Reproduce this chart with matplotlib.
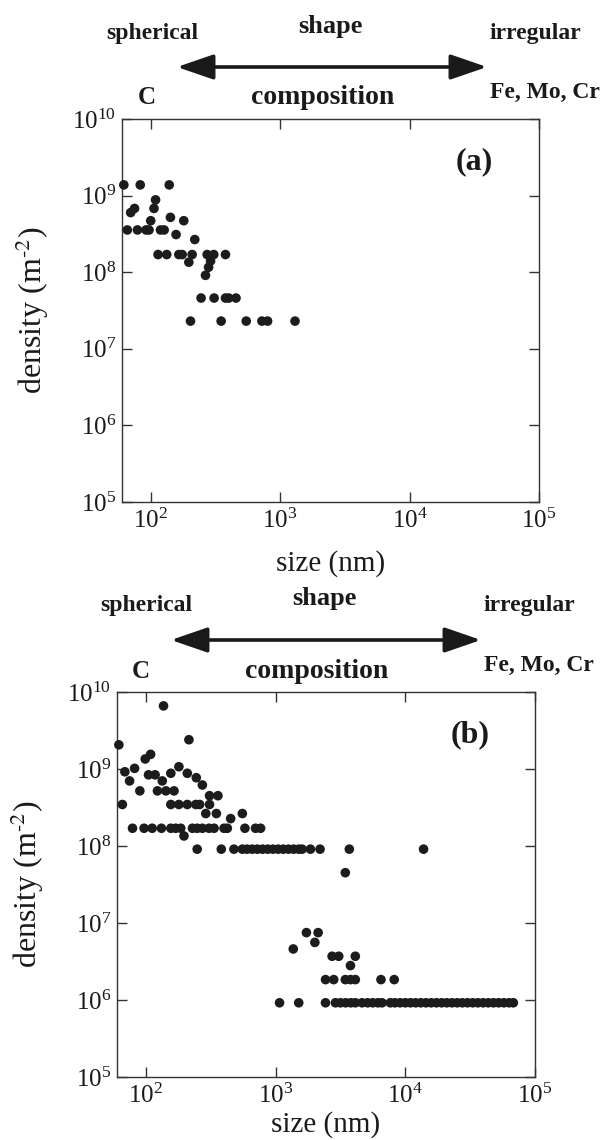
import matplotlib
matplotlib.use("Agg")
import matplotlib.pyplot as plt
from matplotlib.ticker import LogLocator, LogFormatterMathtext

# ---- dados (tamanho em nm, densidade em m^-2) ----
size_a = [62, 83, 139,
          109, 106, 75, 70,
          142, 100, 180,
          66, 79, 92, 97, 119, 127,
          157, 219,
          114, 133, 165, 175, 209, 273, 307, 378,
          197, 290, 280, 265,
          245, 309, 378, 401, 456,
          203, 350, 547, 723, 800, 1303]
dens_a = [1.38e9, 1.38e9, 1.38e9,
          8.8e8, 6.8e8, 6.8e8, 6.0e8,
          5.2e8, 4.7e8, 4.7e8,
          3.56e8, 3.56e8, 3.56e8, 3.56e8, 3.56e8, 3.56e8,
          3.1e8, 2.67e8,
          1.7e8, 1.7e8, 1.7e8, 1.7e8, 1.7e8, 1.7e8, 1.7e8, 1.7e8,
          1.35e8, 1.4e8, 1.16e8, 9.1e7,
          4.6e7, 4.6e7, 4.6e7, 4.6e7, 4.6e7,
          2.3e7, 2.3e7, 2.3e7, 2.3e7, 2.3e7, 2.3e7]

size_b = [62, 66, 69, 75, 82, 90, 99, 109, 105, 118, 123, 143, 165, 134,
          156, 180, 209, 245, 273, 137, 215,
          156, 180, 209, 243, 260, 310,
          310, 360, 290, 350,
          79, 97, 112, 132, 156, 170, 186, 229, 249, 273, 307, 336, 401, 425,
          581, 701, 767,
          197, 451, 555,
          249, 382, 478, 555, 603, 661, 724, 794, 871, 955, 1047, 1148, 1259,
          1380, 1514, 1603, 1858, 2203, 3707, 13836,
          3451,
          1370, 1730, 2130, 2010, 2730, 3070, 4120, 3780,
          2430, 2810, 3450, 3780, 4120, 6500, 8220,
          1074, 1510, 2427, 2897, 3162, 3467, 3802, 4121, 4645, 5129, 5623,
          6166, 6622, 7674, 8318, 9120, 10000, 10960, 12020, 13180, 14450,
          15850, 17380, 19050, 20890, 22910, 25120, 27540, 30200, 33110,
          36310, 39810, 43650, 47860, 52480, 57540, 63100, 68080]
dens_b = [2.06e9, 3.46e8, 9.2e8, 7.0e8, 1.02e9, 5.2e8, 1.35e9, 1.55e9, 8.4e8,
          8.4e8, 5.2e8, 5.2e8, 5.2e8, 7.0e8,
          8.8e8, 1.07e9, 8.8e8, 7.7e8, 6.2e8, 6.6e9, 2.4e9,
          3.46e8, 3.46e8, 3.46e8, 3.46e8, 3.46e8, 3.46e8,
          4.5e8, 4.5e8, 2.64e8, 2.64e8,
          1.7e8, 1.7e8, 1.7e8, 1.7e8, 1.7e8, 1.7e8, 1.7e8, 1.7e8, 1.7e8,
          1.7e8, 1.7e8, 1.7e8, 1.7e8, 1.7e8,
          1.7e8, 1.7e8, 1.7e8,
          1.35e8, 2.27e8, 2.64e8,
          9.1e7, 9.1e7, 9.1e7, 9.1e7, 9.1e7, 9.1e7, 9.1e7, 9.1e7, 9.1e7,
          9.1e7, 9.1e7, 9.1e7, 9.1e7,
          9.1e7, 9.1e7, 9.1e7, 9.1e7, 9.1e7, 9.1e7, 9.1e7,
          4.5e7,
          4.6e6, 7.5e6, 7.5e6, 5.6e6, 3.7e6, 3.7e6, 3.7e6, 2.8e6,
          1.84e6, 1.84e6, 1.84e6, 1.84e6, 1.84e6, 1.84e6, 1.84e6,
          9.2e5, 9.2e5, 9.2e5, 9.2e5, 9.2e5, 9.2e5, 9.2e5, 9.2e5, 9.2e5,
          9.2e5, 9.2e5,
          9.2e5, 9.2e5, 9.2e5, 9.2e5, 9.2e5, 9.2e5, 9.2e5, 9.2e5, 9.2e5,
          9.2e5,
          9.2e5, 9.2e5, 9.2e5, 9.2e5, 9.2e5, 9.2e5, 9.2e5, 9.2e5, 9.2e5,
          9.2e5, 9.2e5, 9.2e5, 9.2e5, 9.2e5, 9.2e5, 9.2e5, 9.2e5]

x_limits = (60, 1e5)
y_limits = (1e5, 1e10)
panel_labels = ["(a)", "(b)"]

W, H = 600, 1140
SERIF = "Liberation Serif"
DOT = "#1c1c1c"
SPINE = "#333333"
INK = "#1a1a1a"


def fx(px):
    return px / W


def fy(py):
    return 1 - py / H


def header(fig, top, dx):
    """Cabecalho com seta shape / composition acima de cada painel"""
    kw = dict(family=SERIF, weight="bold", ha="center", va="center", color=INK)
    fig.text(fx(152 + dx), fy(top - 86), "spherical", fontsize=17, **kw)
    fig.text(fx(330 + dx), fy(top - 93), "shape", fontsize=19, **kw)
    fig.text(fx(535 + dx), fy(top - 86), "irregular", fontsize=17, **kw)
    fig.text(fx(147 + dx), fy(top - 21), "C", fontsize=18, **kw)
    fig.text(fx(323 + dx), fy(top - 21), "composition", fontsize=20, **kw)
    fig.text(fx(545 + dx), fy(top - 27), "Fe, Mo, Cr", fontsize=17, **kw)
    fig.patches.append(matplotlib.patches.FancyArrowPatch(
        (fx(177 + dx), fy(top - 52)), (fx(487 + dx), fy(top - 52)),
        transform=fig.transFigure, arrowstyle="<|-|>,head_length=1.6,head_width=0.55",
        mutation_scale=14, lw=2.6, color=INK, shrinkA=0, shrinkB=0))


def panel(fig, rect, xs, ys, label, xlab_y):
    ax = fig.add_axes(rect)
    ax.scatter(xs, ys, s=48, color=DOT, edgecolors="none", clip_on=False, zorder=3)
    ax.set_xscale("log")
    ax.set_yscale("log")
    ax.set_xlim(*x_limits)
    ax.set_ylim(*y_limits)
    for axis in (ax.xaxis, ax.yaxis):
        axis.set_major_locator(LogLocator(base=10, numticks=10))
        axis.set_major_formatter(LogFormatterMathtext())
        axis.set_minor_locator(plt.NullLocator())
    ax.tick_params(which="major", direction="in", length=7, width=1.0, color=SPINE,
                   top=True, right=True, labelsize=18, labelcolor=INK)
    ax.tick_params(axis="x", pad=5)
    ax.tick_params(axis="y", pad=4)
    for sp in ax.spines.values():
        sp.set_color(SPINE)
        sp.set_linewidth(1.0)
    ax.set_xlabel("size (nm)", family=SERIF, fontsize=21, color=INK)
    ax.set_ylabel("density (m$^{\\text{-}2}$)", family=SERIF, fontsize=23, color=INK)
    ax.xaxis.set_label_coords(0.5, xlab_y)
    ax.yaxis.set_label_coords(-0.17, 0.5)
    ax.text(0.845, 0.888, label, transform=ax.transAxes, family=SERIF,
            weight="bold", fontsize=23, ha="center", va="center", color=INK)
    return ax


def main():
    plt.rcParams["font.family"] = SERIF
    plt.rcParams["mathtext.fontset"] = "stix"
    fig = plt.figure(figsize=(W / 100, H / 100), dpi=100)

    # painel (a)
    header(fig, 119, 0)
    panel(fig, [fx(122), fy(502), fx(417), 383 / H], size_a, dens_a, panel_labels[0], -0.125)

    # painel (b)
    header(fig, 692, -6)
    panel(fig, [fx(117), fy(1077), fx(418), 385 / H], size_b, dens_b, panel_labels[1], -0.088)

    fig.savefig("out.png", dpi=100)


if __name__ == "__main__":
    main()
